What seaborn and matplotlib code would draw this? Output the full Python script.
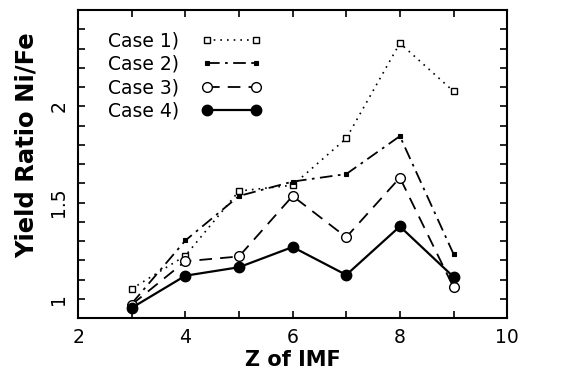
import matplotlib
matplotlib.use("Agg")
import matplotlib.pyplot as plt
import seaborn as sns
import pandas as pd
from matplotlib.ticker import MultipleLocator

z = [3, 4, 5, 6, 7, 8, 9]
case1 = [1.052, 1.224, 1.56, 1.59, 1.833, 2.328, 2.078]
case2 = [0.975, 1.303, 1.534, 1.609, 1.648, 1.845, 1.233]
case3 = [0.97, 1.195, 1.22, 1.534, 1.32, 1.629, 1.06]
case4 = [0.953, 1.12, 1.164, 1.269, 1.124, 1.376, 1.114]
labels = ["Case 1)", "Case 2)", "Case 3)", "Case 4)"]

sns.set_theme(style="ticks", rc={"text.color": "black", "axes.labelcolor": "black",
                                 "xtick.color": "black", "ytick.color": "black"})
plt.rcParams['font.family'] = ['DejaVu Sans']

fig = plt.figure(figsize=(5.66, 3.72), dpi=100)
ax = fig.add_axes([0.138, 0.145, 0.758, 0.828])

styles = [
    dict(linestyle=(0, (1, 3)), marker='s', markersize=5, markerfacecolor='white', markeredgewidth=1.0, lw=1.2),
    dict(linestyle=(0, (7, 3, 1.5, 3)), marker='s', markersize=3.5, markerfacecolor='black', markeredgewidth=0.8, lw=1.3),
    dict(linestyle=(0, (7, 4.5)), marker='o', markersize=7, markerfacecolor='white', markeredgewidth=1.0, lw=1.3),
    dict(linestyle='-', marker='o', markersize=7.5, markerfacecolor='black', markeredgewidth=1.0, lw=1.6),
]
for vals, lab, st in zip([case1, case2, case3, case4], labels, styles):
    df = pd.DataFrame({"z": z, "r": vals})
    sns.lineplot(data=df, x="z", y="r", ax=ax, color='black', markeredgecolor='black', label=lab, **st)

ax.set_xlim(2, 10)
ax.set_ylim(0.9, 2.5)
ax.xaxis.set_major_locator(MultipleLocator(2))
ax.xaxis.set_minor_locator(MultipleLocator(1))
ax.yaxis.set_major_locator(MultipleLocator(0.5))
ax.yaxis.set_minor_locator(MultipleLocator(0.1))
ax.set_yticks([1, 1.5, 2])
ax.set_yticklabels(["1", "1.5", "2"], rotation=90, va='center')
ax.tick_params(which='both', direction='in', top=True, right=True, labelsize=13.5,
               length=5, width=1.2)
ax.tick_params(axis='x', pad=7)
ax.tick_params(axis='y', pad=7)
for s in ax.spines.values():
    s.set_linewidth(1.5)
    s.set_color('black')
ax.set_xlabel("Z of IMF", fontsize=15, fontweight='bold', va='baseline')
ax.xaxis.set_label_coords(0.5, -0.155)
ax.set_ylabel("Yield Ratio Ni/Fe", fontsize=17.5, fontweight='bold', va='center')
ax.yaxis.set_label_coords(-0.119, 0.56)

leg = ax.legend(loc='upper left', bbox_to_anchor=(0.07, 0.93), frameon=False, markerfirst=False,
                numpoints=2, handlelength=3.2, fontsize=13.5, labelspacing=0.23, handletextpad=1.2,
                borderaxespad=0, borderpad=0)
fig.savefig("out.png", dpi=100)
